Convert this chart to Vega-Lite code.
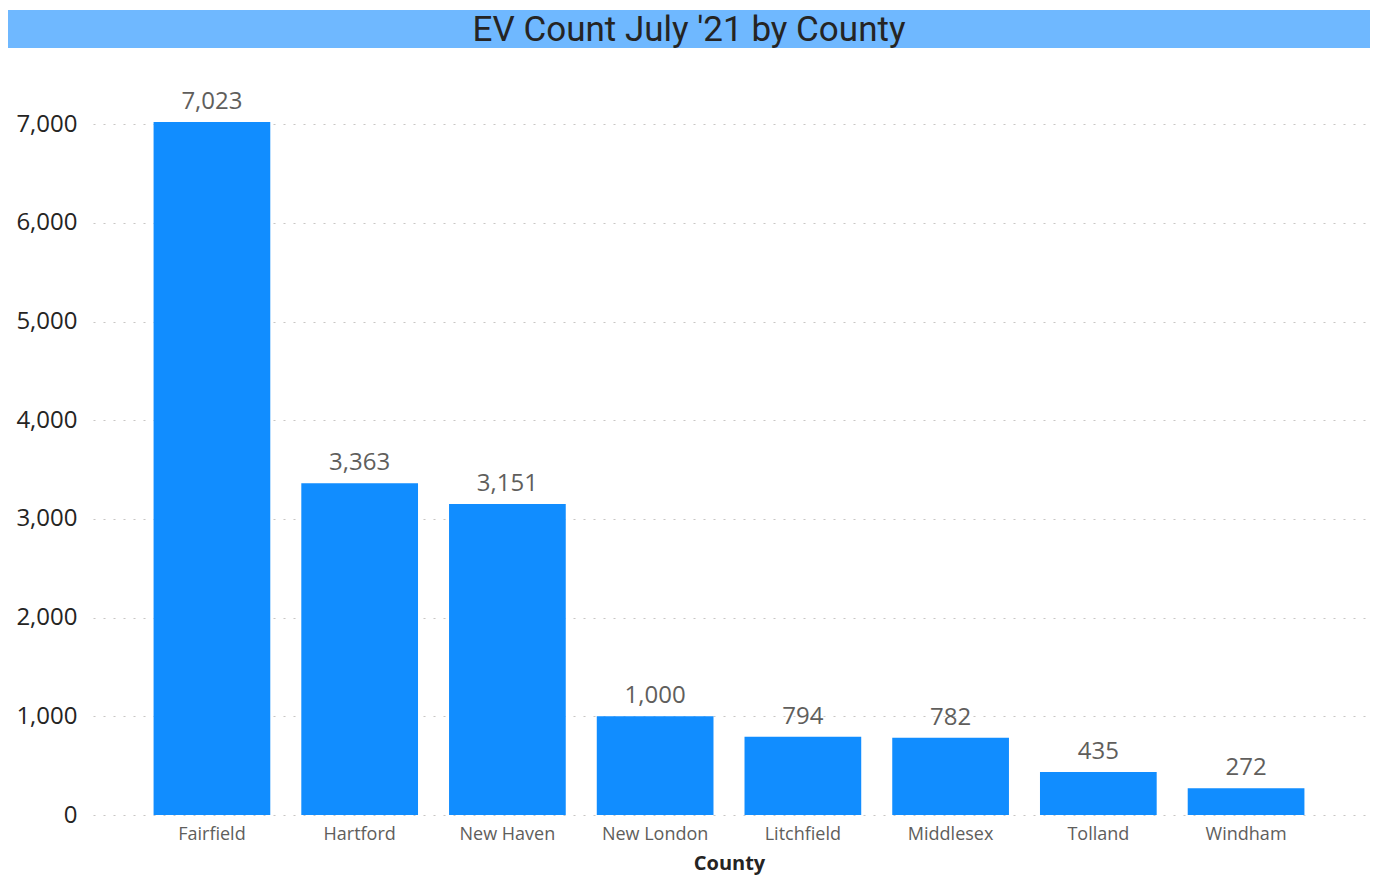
{
  "$schema": "https://vega.github.io/schema/vega-lite/v6.json",
  "background": "white",
  "padding": {"left": 8, "top": 10, "right": 5, "bottom": 5},
  "config": {"view": {"stroke": null}, "font": "Open Sans"},
  "width": 1272,
  "height": 750,
  "layer": [
    {
      "data": {"values": [
        {"County": "Fairfield", "Count": 7023},
        {"County": "Hartford", "Count": 3363},
        {"County": "New Haven", "Count": 3151},
        {"County": "New London", "Count": 1000},
        {"County": "Litchfield", "Count": 794},
        {"County": "Middlesex", "Count": 782},
        {"County": "Tolland", "Count": 435},
        {"County": "Windham", "Count": 272}
      ]},
      "encoding": {
        "x": {
          "field": "County", "type": "nominal", "sort": null,
          "scale": {"paddingInner": 0.21, "paddingOuter": 0.41},
          "axis": {"labelAngle": 0, "labelFontSize": 18, "labelColor": "#605e5c", "labelPadding": 10, "ticks": false, "domain": false,
                   "title": "County", "titleFontSize": 20, "titleFontWeight": "bold", "titleColor": "#252423", "titlePadding": 10}
        },
        "y": {
          "field": "Count", "type": "quantitative",
          "scale": {"domain": [0, 7600], "nice": false},
          "axis": {"values": [0, 1000, 2000, 3000, 4000, 5000, 6000, 7000], "format": ",.0f", "title": null,
                   "labelFontSize": 24, "labelColor": "#252423", "labelPadding": 16, "ticks": false, "domain": false,
                   "gridColor": "#c8c6c4", "gridDash": [2, 8], "gridWidth": 1.2}
        }
      },
      "layer": [
        {"mark": {"type": "bar", "color": "#118dff"}},
        {"mark": {"type": "text", "baseline": "bottom", "dy": -8, "fontSize": 24, "color": "#605e5c"},
         "encoding": {"text": {"field": "Count", "type": "quantitative", "format": ","}}}
      ]
    },
    {
      "data": {"values": [{"title": "EV Count July '21 by County"}]},
      "layer": [
        {
          "mark": {"type": "rect", "color": "#6fb8ff", "clip": false},
          "encoding": {
            "x": {"value": -85}, "x2": {"value": 1277},
            "y": {"value": -55}, "y2": {"value": -17}
          }
        },
        {
          "mark": {"type": "text", "font": "Roboto", "fontSize": 35, "color": "#252423", "baseline": "middle", "align": "center", "clip": false},
          "encoding": {
            "text": {"field": "title"},
            "x": {"value": 596},
            "y": {"value": -35}
          }
        }
      ]
    }
  ]
}
